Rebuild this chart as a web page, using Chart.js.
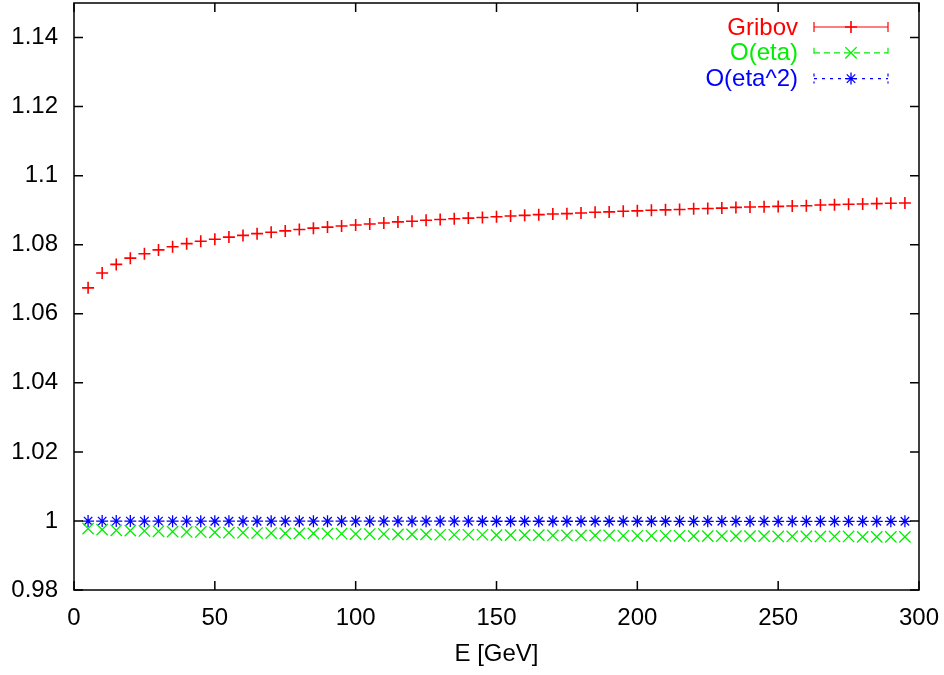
<!DOCTYPE html>
<html>
<head>
<meta charset="utf-8">
<script src="https://cdn.jsdelivr.net/npm/chart.js@4.4.1/dist/chart.umd.min.js"></script>
<style>
  html, body { margin: 0; padding: 0; background: #fff; }
  #wrap { width: 944px; height: 675px; }
</style>
</head>
<body>
<div id="wrap"><canvas id="myChart"></canvas></div>
<script>
const energies = [
  5, 10, 15, 20, 25, 30, 35, 40, 45, 50,
  55, 60, 65, 70, 75, 80, 85, 90, 95, 100,
  105, 110, 115, 120, 125, 130, 135, 140, 145, 150,
  155, 160, 165, 170, 175, 180, 185, 190, 195, 200,
  205, 210, 215, 220, 225, 230, 235, 240, 245, 250,
  255, 260, 265, 270, 275, 280, 285, 290, 295,
];
const gribov = [
  1.0675, 1.0718, 1.0743, 1.0761, 1.0774, 1.0785, 1.0794, 1.0803, 1.0810, 1.0816,
  1.0822, 1.0827, 1.0832, 1.0836, 1.0840, 1.0844, 1.0848, 1.0851, 1.0854, 1.0857,
  1.0860, 1.0863, 1.0866, 1.0868, 1.0871, 1.0873, 1.0875, 1.0877, 1.0879, 1.0881,
  1.0883, 1.0885, 1.0887, 1.0889, 1.0890, 1.0892, 1.0894, 1.0895, 1.0897, 1.0898,
  1.0900, 1.0901, 1.0902, 1.0904, 1.0905, 1.0906, 1.0908, 1.0909, 1.0910, 1.0911,
  1.0912, 1.0913, 1.0915, 1.0916, 1.0917, 1.0918, 1.0919, 1.0920, 1.0921,
];
const oEta = [
  0.9978, 0.9975, 0.9973, 0.9972, 0.9971, 0.9970, 0.9969, 0.9968, 0.9968, 0.9967,
  0.9966, 0.9966, 0.9965, 0.9965, 0.9964, 0.9964, 0.9964, 0.9963, 0.9963, 0.9962,
  0.9962, 0.9962, 0.9961, 0.9961, 0.9961, 0.9960, 0.9960, 0.9960, 0.9960, 0.9959,
  0.9959, 0.9959, 0.9959, 0.9958, 0.9958, 0.9958, 0.9958, 0.9958, 0.9957, 0.9957,
  0.9957, 0.9957, 0.9957, 0.9956, 0.9956, 0.9956, 0.9956, 0.9956, 0.9956, 0.9955,
  0.9955, 0.9955, 0.9955, 0.9955, 0.9955, 0.9954, 0.9954, 0.9954, 0.9954,
];
const oEta2 = [
  0.99996, 0.99995, 0.99995, 0.99995, 0.99994, 0.99994, 0.99994, 0.99994, 0.99994, 0.99993,
  0.99993, 0.99993, 0.99993, 0.99993, 0.99993, 0.99993, 0.99993, 0.99992, 0.99992, 0.99992,
  0.99992, 0.99992, 0.99992, 0.99992, 0.99992, 0.99992, 0.99992, 0.99992, 0.99991, 0.99991,
  0.99991, 0.99991, 0.99991, 0.99991, 0.99991, 0.99991, 0.99991, 0.99991, 0.99991, 0.99991,
  0.99991, 0.99991, 0.99990, 0.99990, 0.99990, 0.99990, 0.99990, 0.99990, 0.99990, 0.99990,
  0.99990, 0.99990, 0.99990, 0.99990, 0.99990, 0.99990, 0.99990, 0.99990, 0.99990,
];
const seriesNames = ["Gribov", "O(eta)", "O(eta^2)"];
const xTicks = { min: 0, max: 300, step: 50 };
const yTicks = { min: 0.98, max: 1.15, step: 0.02 };

const font = { family: "'Liberation Sans', Arial, sans-serif", size: 24 };

function pts(vals) {
  return energies.map((e, i) => ({ x: e, y: vals[i] }));
}

// gnuplot-like frame: box with inward ticks on all four sides + key
const frame = {
  id: "frame",
  afterDraw(chart) {
    const { ctx, chartArea: a, scales } = chart;
    const x = scales.x, y = scales.y;
    ctx.save();
    ctx.strokeStyle = "#000";
    ctx.lineWidth = 1.5;
    const len = 9;
    ctx.beginPath();
    x.ticks.forEach((t) => {
      const px = x.getPixelForValue(t.value);
      ctx.moveTo(px, a.bottom); ctx.lineTo(px, a.bottom - len);
      ctx.moveTo(px, a.top); ctx.lineTo(px, a.top + len);
    });
    y.ticks.forEach((t) => {
      const py = y.getPixelForValue(t.value);
      ctx.moveTo(a.left, py); ctx.lineTo(a.left + len, py);
      ctx.moveTo(a.right, py); ctx.lineTo(a.right - len, py);
    });
    ctx.stroke();
    ctx.strokeRect(a.left, a.top, a.right - a.left, a.bottom - a.top);

    // key
    const dashes = [[], [6, 4], [3, 5]];
    ctx.font = font.size + "px " + font.family;
    ctx.textAlign = "right";
    ctx.textBaseline = "middle";
    chart.data.datasets.forEach((ds, i) => {
      const ky = a.top + 24 + i * 25.8;
      const x1 = a.right - 105, x2 = a.right - 31;
      ctx.fillStyle = ds.borderColor;
      ctx.fillText(ds.label, a.right - 121, ky + 1);
      ctx.strokeStyle = ds.borderColor;
      ctx.lineWidth = 1.2;
      ctx.setLineDash(dashes[i]);
      ctx.beginPath();
      ctx.moveTo(x1, ky); ctx.lineTo(x2, ky);
      ctx.moveTo(x1, ky - 5); ctx.lineTo(x1, ky + 5);
      ctx.moveTo(x2, ky - 5); ctx.lineTo(x2, ky + 5);
      ctx.stroke();
      ctx.setLineDash([]);
      ctx.lineWidth = ds.borderWidth;
      Chart.helpers.drawPoint(ctx, {
        pointStyle: ds.pointStyle, radius: ds.pointRadius, rotation: 0, borderWidth: ds.borderWidth,
      }, (x1 + x2) / 2, ky);
    });
    ctx.restore();
  },
};

const data = {
  datasets: [
    {
      label: seriesNames[0],
      data: pts(gribov),
      borderColor: "#ff0000",
      backgroundColor: "#ff0000",
      pointStyle: "cross",
      pointRadius: 6,
      borderWidth: 1.6,
    },
    {
      label: seriesNames[1],
      data: pts(oEta),
      borderColor: "#00ee00",
      backgroundColor: "#00ee00",
      pointStyle: "crossRot",
      pointRadius: 8,
      borderWidth: 1.3,
    },
    {
      label: seriesNames[2],
      data: pts(oEta2),
      borderColor: "#0000ff",
      backgroundColor: "#0000ff",
      pointStyle: "star",
      pointRadius: 6,
      borderWidth: 1.3,
    },
  ],
};

const config = {
  type: "scatter",
  data: data,
  options: {
    responsive: true,
    maintainAspectRatio: false,
    animation: false,
    layout: { autoPadding: false, padding: { top: 3, right: 25, left: 0, bottom: 0 } },
    scales: {
      x: {
        type: "linear",
        min: xTicks.min,
        max: xTicks.max,
        grid: { display: false, drawTicks: false },
        border: { display: false },
        ticks: { stepSize: xTicks.step, color: "#000", font: font, padding: 14, maxRotation: 0 },
        title: { display: true, text: "E [GeV]", color: "#000", font: font, padding: { top: 4, bottom: 6 } },
        afterFit: (s) => { s.height = 85; s.paddingLeft = 0; s.paddingRight = 0; },
      },
      y: {
        type: "linear",
        min: yTicks.min,
        max: yTicks.max,
        grid: { display: false, drawTicks: false },
        border: { display: false },
        ticks: {
          stepSize: yTicks.step,
          includeBounds: false,
          color: "#000",
          font: font,
          padding: 16,
          callback: (v) => String(Number(v.toFixed(2))),
        },
        afterFit: (s) => { s.width = 74; s.paddingTop = 0; s.paddingBottom = 0; },
      },
    },
    plugins: {
      legend: { display: false },
      tooltip: { enabled: false },
    },
  },
  plugins: [frame],
};

const myChart = new Chart(document.getElementById("myChart"), config);
</script>
</body>
</html>
